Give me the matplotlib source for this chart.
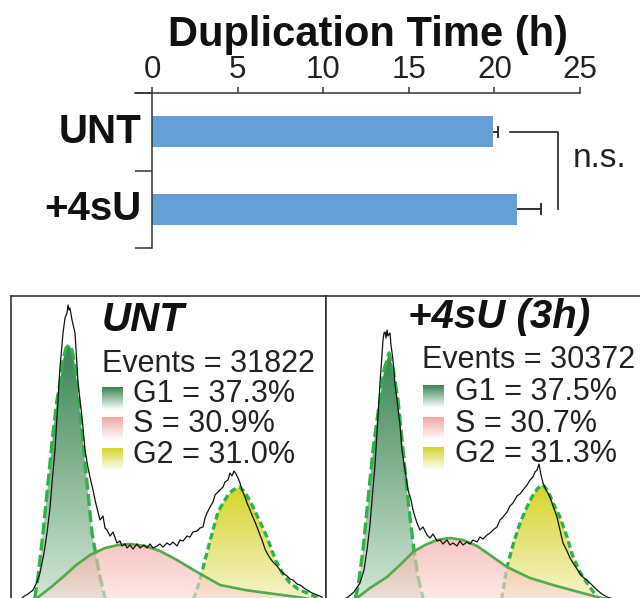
import numpy as np
import matplotlib
matplotlib.use('Agg')
import matplotlib.pyplot as plt
from matplotlib.colors import LinearSegmentedColormap
from matplotlib.path import Path

plt.rcParams['font.family'] = ['Liberation Sans', 'DejaVu Sans']

# ---------------- top bar chart data ----------------
conditions = ['UNT', '+4sU']
dup_time = [19.9, 21.3]
dup_err = [0.3, 1.4]
x_ticks = [0, 5, 10, 15, 20, 25]
axis_title = 'Duplication Time (h)'
sig_label = 'n.s.'

# ---------------- flow cytometry panels ----------------
panel_titles = ['UNT', '+4sU (3h)']
events = [31822, 30372]
phase_names = ['G1', 'S', 'G2']
phase_pct = [[37.3, 30.9, 31.0], [37.5, 30.7, 31.3]]

# UNT: DNA content histogram (channel, counts)
unt_hist_x = [9, 12, 17, 22, 26, 29, 33, 36, 39, 41,
              44, 46, 49, 51, 52, 54, 56, 57, 58, 59,
              61, 64, 66, 67, 69, 71, 74, 77, 79, 82,
              84, 87, 89, 92, 94, 96, 99, 102, 106, 109,
              111, 114, 116, 119, 122, 126, 129, 133, 136, 139,
              142, 146, 149, 152, 156, 159, 162, 166, 169, 172,
              176, 179, 182, 186, 189, 192, 194, 196, 199, 202,
              204, 206, 209, 212, 214, 217, 219, 221, 223, 225,
              227, 229, 231, 234, 236, 239, 241, 244, 246, 249,
              251, 254, 256, 259, 262, 266, 269, 273, 276, 279,
              282, 286, 289, 293, 296, 301, 306, 311]
unt_hist_y = [12, 15, 18, 22, 30, 39, 59, 79, 104, 129,
              162, 195, 245, 267, 279, 294, 299, 307, 302, 304,
              292, 279, 247, 229, 212, 195, 162, 144, 135, 122,
              112, 100, 92, 96, 84, 82, 76, 80, 69, 71,
              66, 68, 64, 67, 63, 68, 64, 67, 64, 68,
              64, 66, 68, 65, 69, 67, 70, 66, 72, 71,
              76, 75, 80, 81, 84, 85, 94, 99, 105, 110,
              117, 119, 122, 125, 130, 132, 139, 136, 141, 138,
              134, 129, 122, 115, 109, 102, 97, 90, 85, 77,
              72, 63, 59, 54, 50, 46, 42, 38, 36, 33,
              32, 28, 27, 24, 22, 19, 17, 15]
# UNT: fitted phase components
unt_g1_x = [14, 19, 24, 27, 32, 37, 42, 46, 49, 52, 55, 58, 61, 64, 66, 71, 76, 81, 84, 89, 94, 99, 104]
unt_g1_y = [0, 4, 15, 35, 79, 129, 179, 212, 229, 252, 264, 267, 262, 247, 229, 179, 129, 79, 62, 35, 14, 4, 0]
unt_s_x = [14, 26, 39, 52, 64, 79, 94, 107, 119, 134, 149, 166, 186, 209, 234, 256, 279, 299, 315]
unt_s_y = [0, 14, 24, 35, 46, 57, 64, 67, 68, 66, 61, 52, 40, 27, 22, 19, 16, 13, 11]
unt_g2_x = [177, 184, 189, 194, 202, 207, 212, 217, 222, 229, 235, 242, 249, 256, 261, 266, 272, 279, 287, 296, 305, 315]
unt_g2_y = [0, 17, 32, 52, 82, 100, 109, 117, 122, 125, 118, 105, 90, 75, 61, 49, 38, 29, 23, 19, 15, 12]

# +4sU (3h): DNA content histogram
su_hist_x = [17, 22, 28, 34, 38, 41, 44, 46, 49, 51,
             54, 56, 57, 58, 59, 60, 61, 62, 64, 65,
             67, 69, 71, 74, 76, 79, 82, 85, 87, 89,
             91, 94, 97, 101, 104, 107, 111, 114, 117, 121,
             124, 127, 131, 134, 137, 141, 144, 147, 151, 154,
             157, 161, 164, 167, 171, 174, 177, 181, 184, 187,
             191, 194, 197, 201, 204, 207, 209, 211, 213, 215,
             217, 220, 224, 227, 231, 234, 237, 241, 244, 247,
             251, 254, 258, 261, 266, 271, 276, 281, 287, 294,
             304, 314]
su_hist_y = [12, 15, 20, 29, 42, 62, 87, 112, 147, 179,
             229, 257, 272, 279, 280, 274, 282, 276, 279, 267,
             252, 227, 212, 187, 162, 142, 122, 112, 102, 95,
             89, 82, 85, 77, 74, 78, 71, 72, 68, 72,
             67, 69, 66, 71, 67, 70, 68, 72, 70, 75,
             73, 77, 79, 82, 85, 92, 95, 100, 106, 109,
             116, 118, 122, 127, 132, 135, 140, 142, 148, 137,
             129, 122, 115, 106, 95, 82, 69, 61, 54, 49,
             43, 38, 34, 32, 27, 22, 18, 15, 13, 11,
             9, 8]
su_g1_x = [26, 32, 37, 42, 47, 51, 54, 58, 63, 67, 72, 77, 82, 87, 92, 97, 102]
su_g1_y = [0, 25, 62, 112, 162, 192, 212, 242, 259, 244, 212, 162, 112, 69, 35, 14, 0]
su_s_x = [19, 31, 44, 61, 74, 87, 99, 111, 124, 137, 151, 164, 181, 204, 227, 249, 271, 294, 315]
su_s_y = [0, 14, 24, 35, 47, 60, 67, 72, 74, 72, 66, 57, 45, 34, 27, 21, 15, 10, 7]
su_g2_x = [169, 176, 181, 187, 194, 201, 207, 212, 217, 222, 227, 234, 241, 247, 254, 261, 271, 281, 294]
su_g2_y = [0, 15, 45, 67, 89, 105, 117, 124, 127, 121, 109, 95, 75, 55, 40, 29, 15, 8, 3]

# ---------------- styling ----------------
BAR_COLOR = '#669ED6'
INK = '#222222'
SPINE = '#333333'
G1_TOP, G1_BOT = '#3a8654', '#dcebdd'
S_TOP, S_BOT = '#f2a7a2', '#fbe9e4'
G2_TOP, G2_BOT = '#d5d52a', '#f9f7de'
DASH_GREEN = '#2db34a'
S_GREEN = '#52aa4a'

fig = plt.figure(figsize=(6.4, 5.98), dpi=100)
W, H = 640.0, 598.0

# ================= top bar chart =================
ax = fig.add_axes([135 / W, (H - 248) / H, 445 / W, 155 / H])
ypos = np.arange(len(conditions))
ax.barh(ypos, dup_time, height=0.4, color=BAR_COLOR, zorder=2)
err_end = [t + e for t, e in zip(dup_time, dup_err)]
ax.hlines(ypos, dup_time, err_end, color=INK, lw=1.3, zorder=3)
ax.plot(err_end, ypos, ls='none', marker='|', ms=9, mew=1.3, color=INK, zorder=3)
ax.set_xlim(-1, 25)
ax.set_ylim(1.5, -0.5)
ax.xaxis.tick_top()
ax.set_xticks(x_ticks)
ax.set_xticklabels([str(t) for t in x_ticks])
ax.tick_params(axis='x', direction='out', length=4.5, width=1.1, pad=1.5,
               labelsize=22.5, colors=SPINE, labelcolor=INK)
ax.set_yticks([-0.5, 0.5, 1.5])
ax.set_yticklabels([])
ax.tick_params(axis='y', direction='out', length=12, width=1.1, colors=SPINE)
ax.spines['left'].set_position(('data', 0))
ax.spines['bottom'].set_visible(False)
ax.spines['right'].set_visible(False)
for s in ('left', 'top'):
    ax.spines[s].set_linewidth(1.1)
    ax.spines[s].set_color(SPINE)
for i, c in enumerate(conditions):
    ax.annotate(c, xy=(0, i), xytext=(-8, 0), textcoords='offset points',
                ha='right', va='center', fontsize=29, fontweight='bold', color='#111111')

# significance bracket
bx = max(err_end) + 1.0
bstart = err_end[0] + 0.7
ax.plot([bstart, bx, bx], [0, 0, 1], color=SPINE, lw=1.3, clip_on=False)
ax.text(bx + 0.9, 0.45, sig_label, ha='left', va='baseline', fontsize=24, color=INK)

fig.text(368.5 / W, (H - 46) / H, axis_title, ha='center', va='baseline',
         fontsize=30, fontweight='bold', color='#111111')


# ================= flow panels =================
def grad_fill(ax, x, y, c_top, c_bot, alpha, z):
    x = np.asarray(x, float)
    y = np.asarray(y, float)
    verts = np.column_stack([np.r_[x, x[-1], x[0]], np.r_[y, 0, 0]])
    path = Path(verts, closed=True)
    cmap = LinearSegmentedColormap.from_list('g', [c_bot, c_top])
    grad = np.linspace(1, 0, 256).reshape(-1, 1)
    im = ax.imshow(grad, extent=[x.min(), x.max(), 0, y.max()], aspect='auto',
                   cmap=cmap, vmin=0, vmax=1, alpha=alpha, zorder=z,
                   origin='upper', interpolation='bilinear')
    im.set_clip_path(path, transform=ax.transData)


def legend_square(ax, x0, x1, y0, y1, c_top):
    cmap = LinearSegmentedColormap.from_list('l', ['#ffffff', c_top])
    grad = np.linspace(1, 0, 64).reshape(-1, 1)
    ax.imshow(grad, extent=[x0, x1, y0, y1], aspect='auto', cmap=cmap,
              vmin=0, vmax=1, zorder=6, origin='upper', interpolation='bilinear')


panels = [
    dict(left=11, hist=(unt_hist_x, unt_hist_y), g1=(unt_g1_x, unt_g1_y),
         s=(unt_s_x, unt_s_y), g2=(unt_g2_x, unt_g2_y),
         title_xy=(91, 281), ev_xy=(91, 240), sq_x=(91, 112), txt_x=122,
         base=[210, 180, 149]),
    dict(left=326, hist=(su_hist_x, su_hist_y), g1=(su_g1_x, su_g1_y),
         s=(su_s_x, su_s_y), g2=(su_g2_x, su_g2_y),
         title_xy=(82, 284), ev_xy=(96, 244), sq_x=(97, 118), txt_x=129,
         base=[212, 180, 150]),
]

tops = [G1_TOP, S_TOP, G2_TOP]
for k, p in enumerate(panels):
    pax = fig.add_axes([p['left'] / W, (H - 612) / H, 315 / W, 316 / H])
    grad_fill(pax, *p['g1'], G1_TOP, G1_BOT, 1.0, 1)
    pax.plot(*p['g1'], color=DASH_GREEN, lw=2.4, dashes=(3.6, 1.3), zorder=2)
    grad_fill(pax, *p['g2'], G2_TOP, G2_BOT, 1.0, 1.5)
    pax.plot(*p['g2'], color=DASH_GREEN, lw=2.4, dashes=(2.0, 1.1), zorder=2)
    grad_fill(pax, *p['s'], S_TOP, S_BOT, 0.65, 3)
    pax.plot(*p['s'], color=S_GREEN, lw=1.9, zorder=4)
    pax.plot(*p['hist'], color='#111111', lw=0.9, zorder=5)

    tx, ty = p['title_xy']
    pax.text(tx, ty, panel_titles[k], ha='left', va='baseline', fontsize=29,
             fontweight='bold', fontstyle='italic', color='#111111', zorder=7)
    ex, ey = p['ev_xy']
    pax.text(ex, ey, f'Events = {events[k]}', ha='left', va='baseline',
             fontsize=22, color=INK, zorder=7)
    for j, name in enumerate(phase_names):
        b = p['base'][j]
        legend_square(pax, p['sq_x'][0], p['sq_x'][1], b - 8, b + 15, tops[j])
        pax.text(p['txt_x'], b, f'{name} = {phase_pct[k][j]:.1f}%', ha='left',
                 va='baseline', fontsize=22, color=INK, zorder=7)

    pax.set_xlim(0, 315)
    pax.set_ylim(0, 316)
    pax.set_xticks([])
    pax.set_yticks([])
    for s in pax.spines.values():
        s.set_linewidth(1.2)
        s.set_color(SPINE)

fig.savefig('out.png', dpi=100)
